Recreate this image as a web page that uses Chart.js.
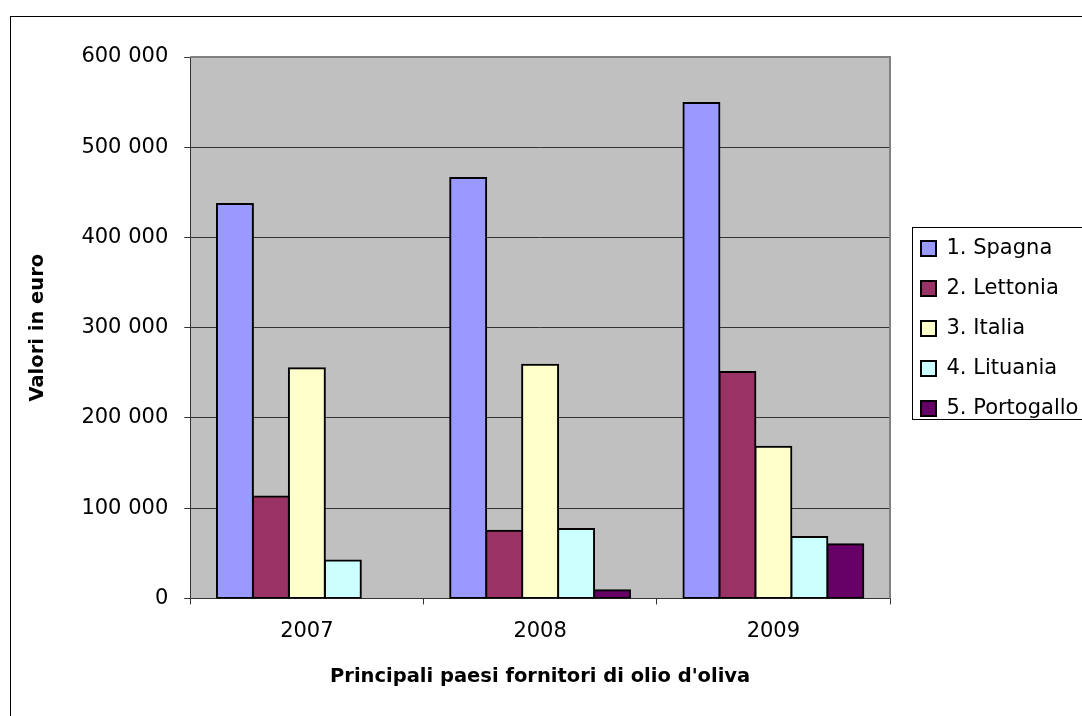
<!DOCTYPE html>
<html>
<head>
<meta charset="utf-8">
<script src="https://cdn.jsdelivr.net/npm/chart.js@4"></script>
<style>
  html, body { margin: 0; padding: 0; background: #fff; overflow: hidden; }
  #wrap { width: 1082px; height: 716px; }
</style>
</head>
<body>
<div id="wrap"><canvas id="chart" width="1082" height="716"></canvas></div>
<script>
// values (euro)
const years = ['2007', '2008', '2009'];
const spagna = [437000, 466000, 549000];
const lettonia = [113000, 75000, 251000];
const italia = [255000, 259000, 168000];
const lituania = [42000, 77000, 68000];
const portogallo = [null, 9000, 60000];

const seriesNames = ['1. Spagna', '2. Lettonia', '3. Italia', '4. Lituania', '5. Portogallo'];
const seriesColors = ['#9999FF', '#993366', '#FFFFCC', '#CCFFFF', '#660066'];
const yTicks = [0, 100000, 200000, 300000, 400000, 500000, 600000];

const fmt = v => String(v).replace(/\B(?=(\d{3})+(?!\d))/g, ' ');

Chart.defaults.font.family = "'DejaVu Sans', sans-serif";
Chart.defaults.color = '#000';

const frame = {
  id: 'frame',
  afterLayout(chart) {
    // push the legend a bit off the plot and level it with the reference
    const lg = chart.legend;
    lg.left += 12;
    lg.right += 12;
    lg.top = 200;
    lg.bottom = 457;
  },
  beforeDraw(chart) {
    const { ctx, chartArea: a } = chart;
    ctx.save();
    ctx.fillStyle = '#C0C0C0';
    ctx.fillRect(a.left, a.top, a.right - a.left, a.bottom - a.top);
    ctx.restore();
  },
  afterDraw(chart) {
    const { ctx, chartArea: a } = chart;
    ctx.save();
    // plot area border (top + right)
    ctx.strokeStyle = '#808080';
    ctx.lineWidth = 2;
    ctx.beginPath();
    ctx.moveTo(a.left, a.top);
    ctx.lineTo(a.right, a.top);
    ctx.lineTo(a.right, a.bottom);
    ctx.stroke();
    // legend frame
    ctx.strokeStyle = '#000';
    ctx.lineWidth = 1;
    ctx.strokeRect(912.5, 227.5, 300, 192);
    // outer chart border
    ctx.strokeRect(10.5, 16.5, 1200, 1000);
    ctx.restore();
  }
};

const series = [spagna, lettonia, italia, lituania, portogallo];

new Chart(document.getElementById('chart'), {
  type: 'bar',
  data: {
    labels: years,
    datasets: series.map((d, i) => ({
      label: seriesNames[i],
      data: d,
      backgroundColor: seriesColors[i],
      borderColor: '#000',
      borderWidth: 2,
      borderSkipped: false,
      inflateAmount: 1,
      categoryPercentage: 0.771,
      barPercentage: 1
    }))
  },
  options: {
    responsive: false,
    animation: false,
    layout: { padding: { top: 57, left: 14, right: 12, bottom: 23 } },
    plugins: {
      legend: {
        position: 'right',
        maxWidth: 180,
        labels: {
          boxWidth: 15,
          boxHeight: 15,
          padding: 19,
          font: { size: 21 },
          color: '#000'
        }
      },
      tooltip: { enabled: false }
    },
    scales: {
      x: {
        grid: { drawOnChartArea: false, drawTicks: true, tickLength: 6, color: '#333' },
        border: { color: '#333', width: 1 },
        ticks: { padding: 15, font: { size: 21 }, color: '#000' },
        title: {
          display: true,
          text: "Principali paesi fornitori di olio d'oliva",
          font: { size: 19.5, weight: 'bold' },
          color: '#000',
          padding: { top: 6, bottom: 4 }
        }
      },
      y: {
        min: 0,
        max: 600000,
        afterBuildTicks: scale => { scale.ticks = yTicks.map(v => ({ value: v })); },
        grid: { color: '#333', lineWidth: 1, tickLength: 6 },
        border: { color: '#333', width: 1 },
        ticks: { padding: 16, font: { size: 21 }, color: '#000', callback: v => fmt(v) },
        title: {
          display: true,
          text: 'Valori in euro',
          font: { size: 19.5, weight: 'bold' },
          color: '#000',
          padding: { top: 12, bottom: 16 }
        }
      }
    }
  },
  plugins: [frame]
});
</script>
</body>
</html>
